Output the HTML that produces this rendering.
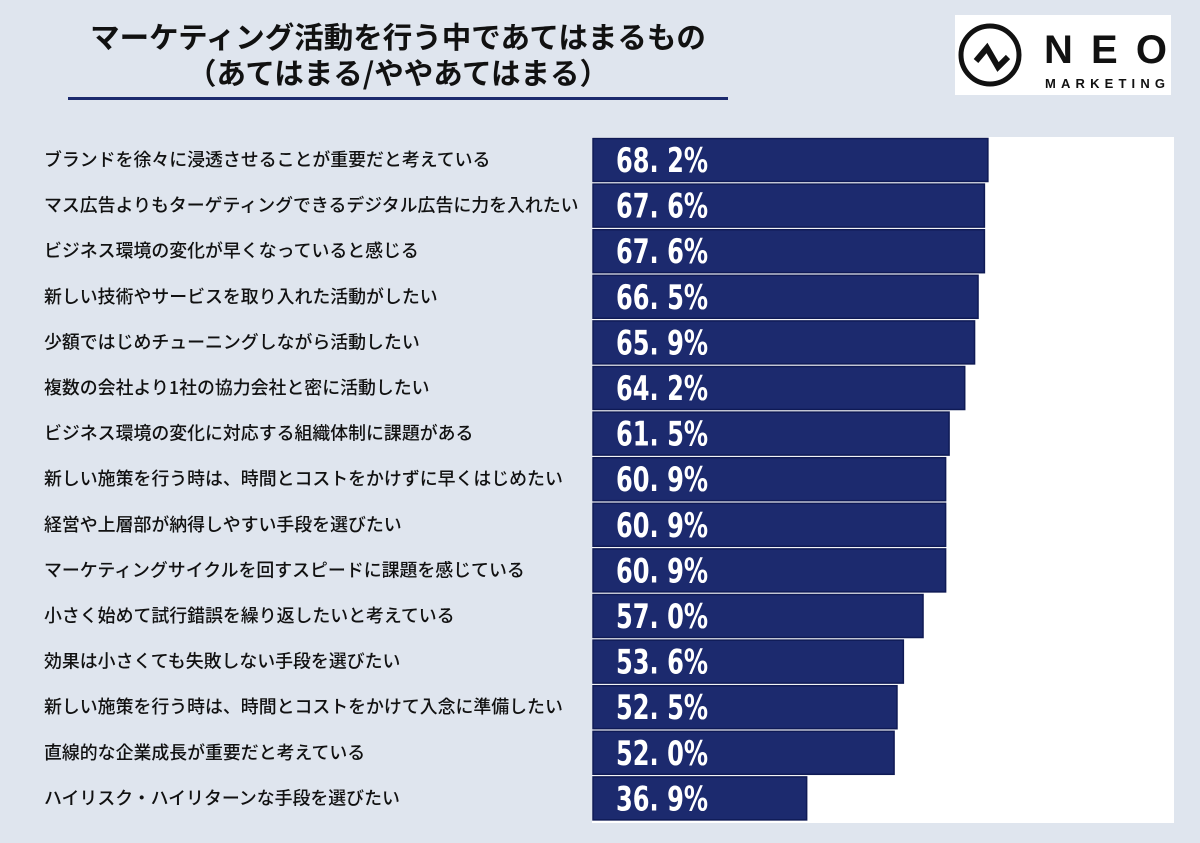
<!DOCTYPE html>
<html><head><meta charset="utf-8"><style>
body{margin:0;width:1200px;height:843px;background:#dfe5ee;font-family:"Liberation Sans","Noto Sans CJK JP",sans-serif;position:relative;overflow:hidden}
.title{position:absolute;left:48px;width:700px;top:18px;text-align:center;font-size:29.5px;line-height:36px;color:#111;font-family:"Noto Sans CJK JP",sans-serif;font-weight:bold}
.rule{position:absolute;left:68px;top:97px;width:660px;height:3px;background:#1c2a6e}
.logo{position:absolute;left:955px;top:15px;width:216px;height:80px;background:#fff}
</style></head><body>
<div class="title">マーケティング活動を行う中であてはまるもの<br>（あてはまる/ややあてはまる）</div>
<div class="rule"></div>
<div class="logo">
<svg width="216" height="80">
<circle cx="35" cy="40" r="29" fill="none" stroke="#111" stroke-width="5"/>
<polyline points="21,46 32,33 43,52 53,42" fill="none" stroke="#111" stroke-width="6" stroke-linejoin="miter"/>
<text x="89" y="48" font-family="Liberation Sans,sans-serif" font-weight="bold" font-size="40" textLength="123" lengthAdjust="spacing" fill="#111">NEO</text>
<text x="90" y="73" font-family="Liberation Sans,sans-serif" font-weight="bold" font-size="13" textLength="120" lengthAdjust="spacing" fill="#111">MARKETING</text>
</svg></div>
<svg id="chart" width="1200" height="843" style="position:absolute;left:0;top:0"></svg>
<script>
const categories=["ブランドを徐々に浸透させることが重要だと考えている","マス広告よりもターゲティングできるデジタル広告に力を入れたい","ビジネス環境の変化が早くなっていると感じる","新しい技術やサービスを取り入れた活動がしたい","少額ではじめチューニングしながら活動したい","複数の会社より1社の協力会社と密に活動したい","ビジネス環境の変化に対応する組織体制に課題がある","新しい施策を行う時は、時間とコストをかけずに早くはじめたい","経営や上層部が納得しやすい手段を選びたい","マーケティングサイクルを回すスピードに課題を感じている","小さく始めて試行錯誤を繰り返したいと考えている","効果は小さくても失敗しない手段を選びたい","新しい施策を行う時は、時間とコストをかけて入念に準備したい","直線的な企業成長が重要だと考えている","ハイリスク・ハイリターンな手段を選びたい"];
const values=[68.2,67.6,67.6,66.5,65.9,64.2,61.5,60.9,60.9,60.9,57.0,53.6,52.5,52.0,36.9];
const labels=["68. 2%","67. 6%","67. 6%","66. 5%","65. 9%","64. 2%","61. 5%","60. 9%","60. 9%","60. 9%","57. 0%","53. 6%","52. 5%","52. 0%","36. 9%"];
const NS="http://www.w3.org/2000/svg",svg=document.getElementById('chart');
const x0=593,pxPer=5.79,y0=138,step=45.6,bh=44;
const xs=v=>v*pxPer, ys=i=>y0+i*step;
function mk(t,a){const e=document.createElementNS(NS,t);for(const k in a)e.setAttribute(k,a[k]);svg.appendChild(e);return e;}
const bg=mk('rect',{x:592,y:137,width:582,height:686,fill:'#fff'});


categories.forEach((c,i)=>{
 const y=ys(i);
 const t=mk('text',{x:44,y:y+bh/2+6,'font-size':17.9,fill:'#111','font-family':'"Noto Sans CJK JP",sans-serif','font-weight':500});
 t.textContent=c;
 
 
 const r=mk('rect',{x:x0,y:y+0.5,width:xs(values[i]),height:bh-1,fill:'#1c2a6e',stroke:'#0f1a55','stroke-width':1.5});
 
 
 const v=mk('text',{x:616,y:y+bh/2+12,'font-size':34,fill:'#fff','font-weight':'bold','font-family':'"DejaVu Sans Condensed","Liberation Sans Narrow",sans-serif',textLength:92,lengthAdjust:'spacingAndGlyphs'});
 v.textContent=labels[i];
 
 
});
</script>
</body></html>
